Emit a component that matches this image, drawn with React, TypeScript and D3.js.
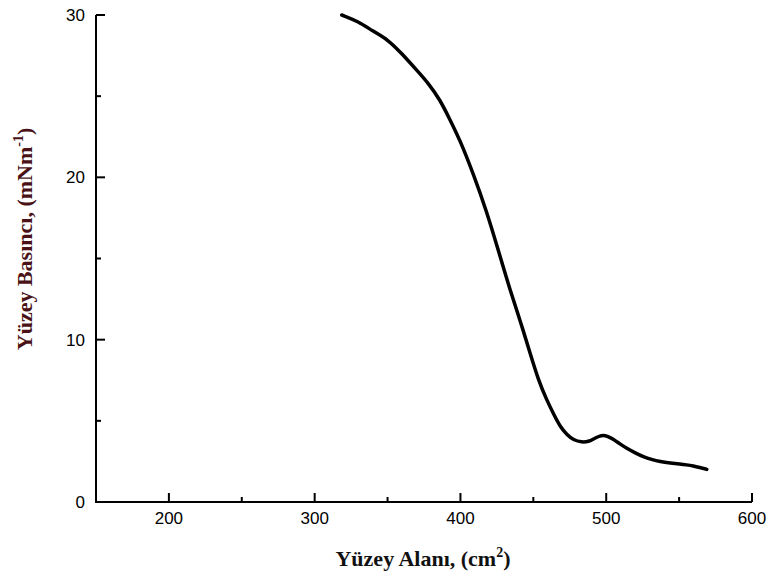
import React, { useEffect, useRef } from "react";
import * as d3 from "d3";

// surface area (cm2) vs surface pressure (mN/m)
const area = [318.6, 330, 340, 350.5, 360, 370, 378, 386, 392, 399.7, 408.9, 418, 426, 434, 440.9, 447.8, 453.5, 459.2, 464, 468.4, 473, 477.5, 483.2, 488, 491.2, 495, 498, 501, 505, 509, 514, 520, 525.5, 531, 537, 544, 550.7, 555, 559.8, 564, 569];
const pressure = [30, 29.6, 29.0, 28.47, 27.6, 26.6, 25.8, 24.77, 23.7, 22.3, 20.2, 17.9, 15.5, 13.06, 11.2, 9.16, 7.5, 6.28, 5.4, 4.64, 4.15, 3.82, 3.68, 3.72, 3.88, 4.05, 4.13, 4.05, 3.86, 3.6, 3.31, 3.02, 2.79, 2.62, 2.48, 2.4, 2.34, 2.29, 2.22, 2.13, 2.01];

const xMajor = [200, 300, 400, 500, 600];
const xMinor = [250, 350, 450, 550];
const yMajor = [0, 10, 20, 30];
const yMinor = [5, 15, 25];

const App = () => {
  const ref = useRef<SVGSVGElement>(null);

  useEffect(() => {
    const svg = d3.select(ref.current);
    svg.selectAll("*").remove();

    const left = 96, right = 752, top = 15, bottom = 502;
    const x = d3.scaleLinear().domain([150, 600]).range([left, right]);
    const y = d3.scaleLinear().domain([0, 30]).range([bottom, top]);

    const g = svg.append("g");

    // axis lines
    g.append("line")
      .attr("x1", left).attr("x2", left)
      .attr("y1", top).attr("y2", bottom + 1)
      .attr("stroke", "#000").attr("stroke-width", 2);
    g.append("line")
      .attr("x1", left - 1).attr("x2", right)
      .attr("y1", bottom).attr("y2", bottom)
      .attr("stroke", "#000").attr("stroke-width", 2);

    // x ticks (pointing up, inside)
    g.selectAll(".xmaj").data(xMajor).enter().append("line")
      .attr("x1", d => x(d)).attr("x2", d => x(d))
      .attr("y1", bottom).attr("y2", bottom - 9)
      .attr("stroke", "#000").attr("stroke-width", 2);
    g.selectAll(".xmin").data(xMinor).enter().append("line")
      .attr("x1", d => x(d)).attr("x2", d => x(d))
      .attr("y1", bottom).attr("y2", bottom - 5)
      .attr("stroke", "#000").attr("stroke-width", 2);
    g.selectAll(".xlab").data(xMajor).enter().append("text")
      .attr("x", d => x(d)).attr("y", bottom + 22)
      .attr("text-anchor", "middle")
      .style("font-family", "'Liberation Sans', Arial, sans-serif")
      .style("font-size", "17px")
      .text(d => d);

    // y ticks (pointing right, inside)
    g.selectAll(".ymaj").data(yMajor).enter().append("line")
      .attr("x1", left).attr("x2", left + 9)
      .attr("y1", d => y(d)).attr("y2", d => y(d))
      .attr("stroke", "#000").attr("stroke-width", 2);
    g.selectAll(".ymin").data(yMinor).enter().append("line")
      .attr("x1", left).attr("x2", left + 5)
      .attr("y1", d => y(d)).attr("y2", d => y(d))
      .attr("stroke", "#000").attr("stroke-width", 2);
    g.selectAll(".ylab").data(yMajor).enter().append("text")
      .attr("x", left - 11).attr("y", d => y(d))
      .attr("dy", "0.36em")
      .attr("text-anchor", "end")
      .style("font-family", "'Liberation Sans', Arial, sans-serif")
      .style("font-size", "17px")
      .text(d => d);

    // the isotherm
    const pts: [number, number][] = area.map((a, i) => [a, pressure[i]]);
    const line = d3.line<[number, number]>()
      .x(d => x(d[0])).y(d => y(d[1]))
      .curve(d3.curveBasis);
    g.append("path")
      .datum(pts)
      .attr("d", line)
      .attr("fill", "none")
      .attr("stroke", "#000")
      .attr("stroke-width", 3.5)
      .attr("stroke-linecap", "round")
      .attr("stroke-linejoin", "round");

    // axis titles
    const xt = g.append("text")
      .attr("x", 423).attr("y", 566)
      .attr("text-anchor", "middle")
      .style("font-family", "'Liberation Serif', 'Times New Roman', serif")
      .style("font-weight", "bold")
      .style("font-size", "22px")
      .attr("fill", "#111");
    xt.append("tspan").text("Yüzey Alanı, (cm");
    xt.append("tspan").attr("dy", -9).style("font-size", "14px").text("2");
    xt.append("tspan").attr("dy", 9).text(")");

    const yt = g.append("text")
      .attr("transform", "translate(32,239) rotate(-90)")
      .attr("text-anchor", "middle")
      .style("font-family", "'Liberation Serif', 'Times New Roman', serif")
      .style("font-weight", "bold")
      .style("font-size", "22px")
      .attr("fill", "#4a1216");
    yt.append("tspan").text("Yüzey Basıncı, (mNm");
    yt.append("tspan").attr("dy", -9).style("font-size", "14px").text("-1");
    yt.append("tspan").attr("dy", 9).text(")");
  }, []);

  return (
    <svg ref={ref} width={768} height={578}
      style={{ position: "absolute", left: 0, top: 0, background: "#fff" }} />
  );
};

export default App;
